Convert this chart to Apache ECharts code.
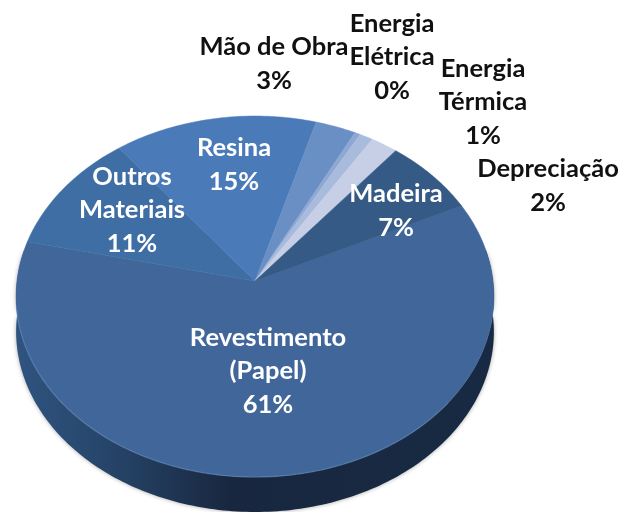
<!DOCTYPE html>
<html>
<head>
<meta charset="utf-8">
<style>
  html, body { margin: 0; padding: 0; background: #fff; }
  #chart { width: 625px; height: 512px; }
</style>
<script src="https://cdn.jsdelivr.net/npm/echarts@6/dist/echarts.min.js"></script>
</head>
<body>
<div id="chart"></div>
<script>
// clockwise from the Madeira / Revestimento boundary
const categories = ['Revestimento\n(Papel)', 'Outros\nMateriais', 'Resina', 'Mão de Obra', 'Energia\nElétrica', 'Energia\nTérmica', 'Depreciação', 'Madeira']
const values = [61, 11, 15, 3, 0.4, 1, 2, 7]

const sliceColors = ['#41679a', '#3f6ea5', '#4a7ab8', '#6a8fc4', '#8fa8d3', '#a9bbdd', '#c6cfe5', '#355a86']
const labelColors = ['#fff', '#fff', '#fff', '#111', '#111', '#111', '#111', '#fff']
const labelCenters = [[268, 371], [132, 210], [234, 165], [274, 64], [392, 57], [483, 102], [548, 186], [396, 211]]

const startAngle = 64.2
const total = values.reduce((a, b) => a + b, 0)
const thickness = 35
const lineHeight = 33.5

// tilted pie: maps a point of the unit circle to the screen
const project = (u, v) => {
  const w = 1 - 0.0859 * v
  return [255 + (238 * u) / w, (281 + 155 * v) / w]
}
const rimPoint = (deg) => {
  const a = (deg * Math.PI) / 180
  return project(Math.sin(a), -Math.cos(a))
}
const arcPoints = (from, to) => {
  const pts = []
  for (let d = from; d < to; d += 1) {
    pts.push(rimPoint(d))
  }
  pts.push(rimPoint(to))
  return pts
}
const sliceRange = (index) => {
  let from = startAngle
  for (let i = 0; i < index; i++) {
    from += (values[i] / total) * 360
  }
  return [from, from + (values[index] / total) * 360]
}

const renderWall = (params, api) => {
  const r = sliceRange(api.value(0))
  const from = Math.max(r[0], 80)
  const to = Math.min(r[1], 280)
  if (from >= to) {
    return null
  }
  const top = arcPoints(from, to)
  const bottom = top.map((p) => [p[0], p[1] + thickness]).reverse()
  return {
    type: 'polygon',
    shape: { points: top.concat(bottom) },
    style: {
      fill: {
        type: 'linear',
        global: true,
        x: 16,
        y: 0,
        x2: 494,
        y2: 0,
        colorStops: [
          { offset: 0, color: '#2f5480' },
          { offset: 0.2, color: '#264468' },
          { offset: 0.45, color: '#18273f' },
          { offset: 1, color: '#182a43' },
        ],
      },
      shadowBlur: 4,
      shadowColor: 'rgba(0,0,0,0.35)',
    },
  }
}

const renderSlice = (params, api) => {
  const i = api.value(0)
  const r = sliceRange(i)
  return {
    type: 'polygon',
    shape: { points: [project(0, 0)].concat(arcPoints(r[0], r[1])) },
    style: { fill: sliceColors[i], stroke: sliceColors[i], lineWidth: 0.5 },
  }
}

const renderRim = () => ({
  type: 'polyline',
  shape: { points: arcPoints(130, 262) },
  style: { fill: null, stroke: 'rgba(95,135,185,0.45)', lineWidth: 1.5 },
})

const renderLabel = (params, api) => {
  const i = api.value(0)
  const text = categories[i] + '\n' + Math.round(values[i]) + '%'
  return {
    type: 'text',
    x: labelCenters[i][0],
    y: labelCenters[i][1],
    style: {
      text: text,
      fill: labelColors[i],
      font: 'bold 25.5px Lato, sans-serif',
      lineHeight: lineHeight,
      align: 'center',
      verticalAlign: 'middle',
    },
  }
}

const indices = categories.map((c, i) => [i])
const chart = echarts.init(document.getElementById('chart'), null, { renderer: 'canvas' })
const layer = (renderItem, z, data) => ({
  type: 'custom',
  coordinateSystem: 'none',
  renderItem: renderItem,
  z: z,
  silent: true,
  animation: false,
  clip: false,
  data: data,
})
chart.setOption({
  backgroundColor: '#fff',
  animation: false,
  series: [
    layer(renderWall, 1, indices),
    layer(renderSlice, 2, indices),
    layer(renderRim, 3, [[0]]),
    layer(renderLabel, 4, indices),
  ],
})
</script>
</body>
</html>
